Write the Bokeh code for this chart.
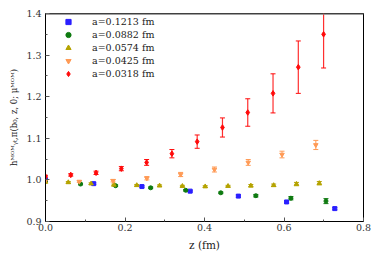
from bokeh.plotting import figure
from bokeh.models import (ColumnDataSource, Whisker, TeeHead, Legend, LegendItem, Span,
                          FixedTicker, PrintfTickFormatter)
from bokeh.embed import file_html
from bokeh.resources import INLINE

# ---- data ----
z_1213 = [0.0, 0.1213, 0.2426, 0.3639, 0.4852, 0.6065, 0.7278]
h_1213 = [1.000, 0.991, 0.984, 0.973, 0.961, 0.947, 0.931]
e_1213 = [0.001, 0.002, 0.002, 0.002, 0.003, 0.003, 0.003]

z_0882 = [0.0, 0.0882, 0.1764, 0.2646, 0.3528, 0.4410, 0.5292, 0.6174, 0.7056]
h_0882 = [0.997, 0.990, 0.986, 0.981, 0.975, 0.969, 0.962, 0.956, 0.949]
e_0882 = [0.001, 0.002, 0.002, 0.002, 0.002, 0.002, 0.003, 0.004, 0.006]

z_0574 = [0.0, 0.0574, 0.1148, 0.1722, 0.2296, 0.2870, 0.3444, 0.4018, 0.4592, 0.5166, 0.5740, 0.6314, 0.6888]
h_0574 = [0.995, 0.994, 0.991, 0.988, 0.987, 0.986, 0.985, 0.984, 0.985, 0.986, 0.987, 0.990, 0.992]
e_0574 = [0.001, 0.002, 0.002, 0.002, 0.002, 0.002, 0.002, 0.002, 0.002, 0.003, 0.003, 0.004, 0.004]

z_0425 = [0.0, 0.085, 0.170, 0.255, 0.340, 0.425, 0.510, 0.595, 0.680]
h_0425 = [0.998, 0.996, 0.998, 1.004, 1.013, 1.025, 1.042, 1.061, 1.084]
e_0425 = [0.002, 0.002, 0.003, 0.004, 0.005, 0.006, 0.007, 0.008, 0.011]

z_0318 = [0.0, 0.0636, 0.1272, 0.1908, 0.2544, 0.3180, 0.3816, 0.4452, 0.5088, 0.5724, 0.6360, 0.6996]
h_0318 = [1.008, 1.012, 1.017, 1.027, 1.042, 1.063, 1.092, 1.126, 1.162, 1.208, 1.271, 1.350]
e_0318 = [0.003, 0.003, 0.004, 0.005, 0.007, 0.010, 0.016, 0.023, 0.033, 0.047, 0.063, 0.081]

labels = ["a=0.1213 fm", "a=0.0882 fm", "a=0.0574 fm", "a=0.0425 fm", "a=0.0318 fm"]
x_ticks = [0.0, 0.2, 0.4, 0.6, 0.8]
y_ticks = [0.9, 1.0, 1.1, 1.2, 1.3, 1.4]

series = [
    (z_1213, h_1213, e_1213, "square", "#2a1fff", 4),
    (z_0882, h_0882, e_0882, "circle", "#0e7a10", 4),
    (z_0574, h_0574, e_0574, "triangle", "#b5a300", 4.5),
    (z_0425, h_0425, e_0425, "inverted_triangle", "#ff9a55", 4.5),
    (z_0318, h_0318, e_0318, "diamond", "#ff0a0a", 5.5),
]

FONT = "DejaVu Serif"

p = figure(frame_width=318, frame_height=208, x_range=(0, 0.8), y_range=(0.9, 1.4),
           output_backend="svg", toolbar_location=None,
           min_border_left=45, min_border_right=8, min_border_top=13, min_border_bottom=30)
p.grid.visible = False
p.outline_line_color = "black"
p.outline_line_width = 1

items = []
for (zs, hs, es, marker, color, size), lab in zip(series, labels):
    src = ColumnDataSource(dict(z=zs, h=hs,
                                lo=[h - e for h, e in zip(hs, es)],
                                hi=[h + e for h, e in zip(hs, es)]))
    w = Whisker(base="z", upper="hi", lower="lo", source=src, dimension="height",
                line_color=color, line_width=1.2, line_alpha=0.85,
                upper_head=TeeHead(size=5, line_color=color, line_width=1),
                lower_head=TeeHead(size=5, line_color=color, line_width=1))
    p.add_layout(w)
    r = p.scatter("z", "h", source=src, marker=marker, size=size,
                  fill_color=color, line_color=color)
    items.append(LegendItem(label=lab, renderers=[r]))

top_line = Span(location=1.4, dimension="width", line_color="#808080", line_width=2.5)
p.add_layout(top_line)

legend = Legend(items=items, location=(16, 141), padding=2, spacing=0,
                glyph_width=14, glyph_height=13, label_height=13, label_standoff=17,
                label_text_font=FONT, label_text_font_size="9.5px",
                label_text_color="#222222",
                border_line_color=None, background_fill_alpha=0)
p.add_layout(legend)

p.xaxis.ticker = FixedTicker(ticks=x_ticks, minor_ticks=[0.1, 0.3, 0.5, 0.7])
p.yaxis.ticker = FixedTicker(ticks=y_ticks, minor_ticks=[0.95, 1.05, 1.15, 1.25, 1.35])
p.xaxis.formatter = PrintfTickFormatter(format="%.1f")
p.yaxis.formatter = PrintfTickFormatter(format="%.1f")
for ax in (p.xaxis, p.yaxis):
    ax.major_tick_in = 4
    ax.major_tick_out = 0
    ax.minor_tick_in = 2
    ax.minor_tick_out = 0
    ax.major_tick_line_color = "#555555"
    ax.minor_tick_line_color = "#555555"
    ax.axis_line_color = "black"
    ax.major_label_text_font = FONT
    ax.major_label_text_font_size = "9.5px"
    ax.major_label_text_color = "#333333"
    ax.axis_label_text_font = FONT
    ax.axis_label_text_font_style = "normal"
    ax.axis_label_text_color = "#222222"

p.xaxis.major_label_standoff = 2
p.yaxis.major_label_standoff = 4
p.xaxis.axis_label = "z (fm)"
p.xaxis.axis_label_text_font_size = "10.5px"
p.xaxis.axis_label_standoff = 5
p.yaxis.axis_label = "hᴹᴼᴹᵧₜ,π(b₀, z, 0; μᴹᴼᴹ)"
p.yaxis.axis_label_text_font_size = "8.5px"
p.yaxis.axis_label_standoff = 4

open("out.html", "w").write(file_html(p, INLINE))
